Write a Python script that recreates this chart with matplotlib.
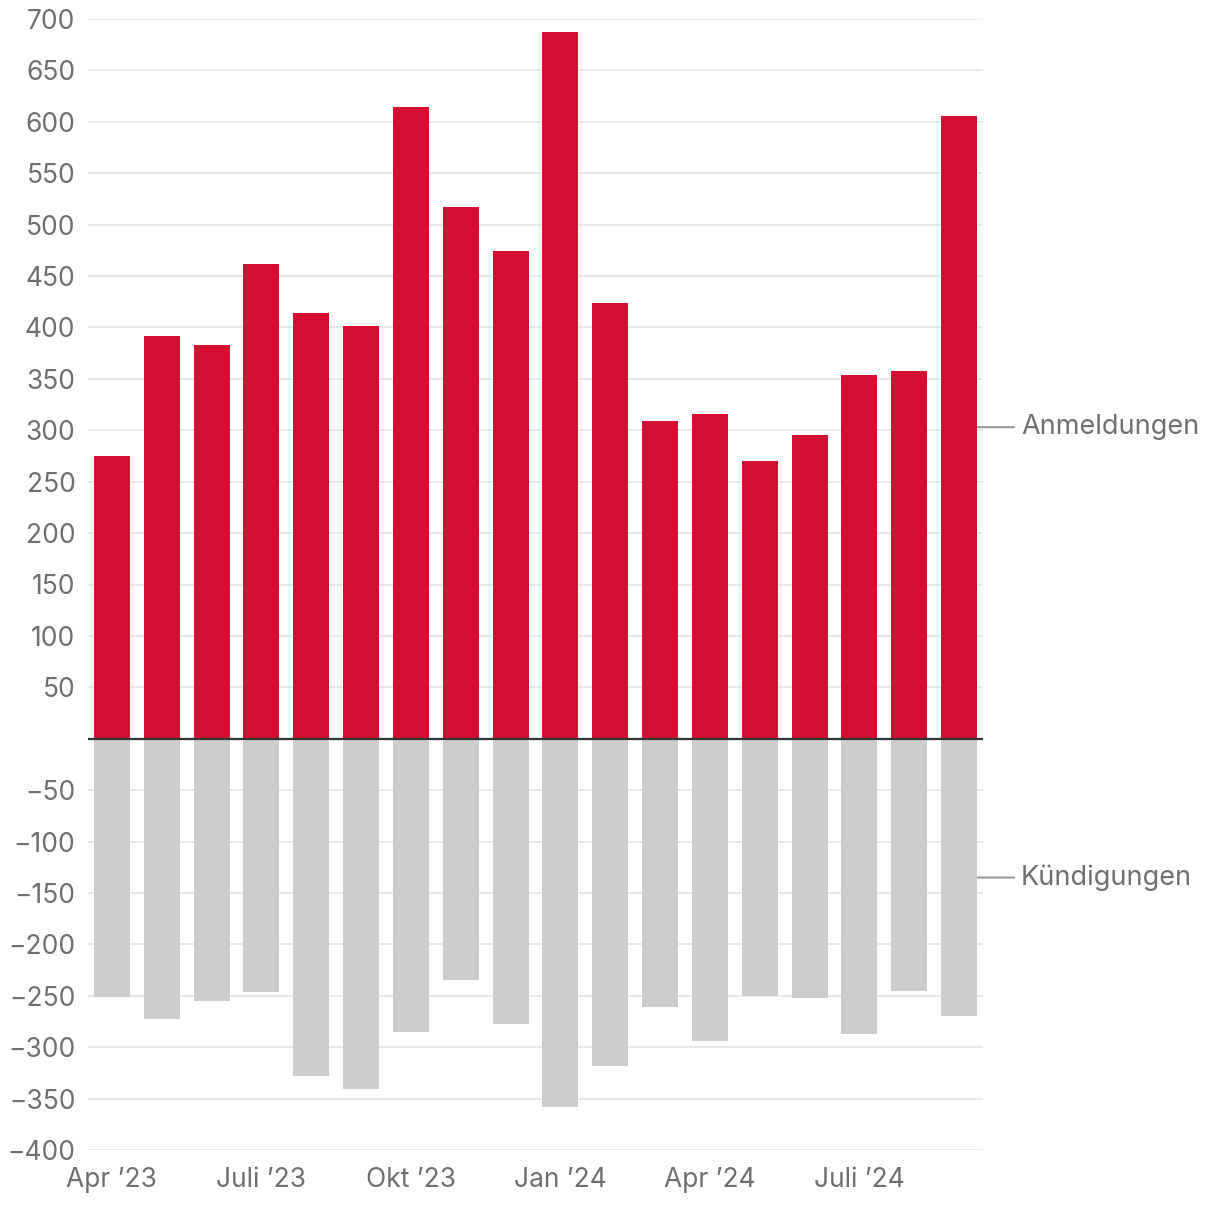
import numpy as np
import matplotlib.pyplot as plt

months = ["Apr '23", "Mai '23", "Juni '23", "Juli '23", "Aug '23", "Sep '23",
          "Okt '23", "Nov '23", "Dez '23", "Jan '24", "Feb '24", "Mär '24",
          "Apr '24", "Mai '24", "Juni '24", "Juli '24", "Aug '24", "Sep '24"]
anmeldungen = [275, 392, 383, 462, 414, 401, 614, 517, 474, 687, 424, 309,
               316, 270, 295, 354, 358, 606]
kuendigungen = [-251, -273, -255, -246, -328, -341, -285, -235, -277, -358, -318, -261,
                -294, -250, -252, -287, -245, -270]
tick_idx = [0, 3, 6, 9, 12, 15]
tick_labels = ["Apr \u201923", "Juli \u201923", "Okt \u201923", "Jan \u201924", "Apr \u201924", "Juli \u201924"]
yticks = [700, 650, 600, 550, 500, 450, 400, 350, 300, 250, 200, 150, 100, 50,
          -50, -100, -150, -200, -250, -300, -350, -400]

plt.rcParams['font.family'] = ['Inter', 'DejaVu Sans']
txt = '#6e6e73'
red = '#d50f31'
grey = '#cccccc'

fig = plt.figure(figsize=(12.2, 12.14), dpi=100)
ax = fig.add_axes([88/1220, 1 - 1150/1214, (983-88)/1220, (1150-19)/1214])

x = np.arange(len(months))
ax.bar(x, anmeldungen, width=0.72, color=red, zorder=2)
ax.bar(x, kuendigungen, width=0.72, color=grey, zorder=2)
ax.axhline(0, color='#333333', lw=1.6, zorder=3)

ax.set_xlim(-0.48, len(months) - 0.52)
ax.set_ylim(-400, 700)
ax.set_yticks(yticks)
ax.set_yticklabels([f"{v}".replace('-', '\u2212') for v in yticks])
ax.yaxis.grid(True, color='#e6e6e6', lw=1.3, zorder=0)
ax.set_xticks(tick_idx)
ax.set_xticklabels(tick_labels)
ax.tick_params(axis='both', length=0, labelsize=19, labelcolor=txt)
ax.tick_params(axis='y', pad=9)
ax.tick_params(axis='x', pad=12)
for s in ax.spines.values():
    s.set_visible(False)

# series labels next to the last bar
last = len(months) - 1
for val, name in [(anmeldungen[-1], 'Anmeldungen'), (kuendigungen[-1], 'K\u00fcndigungen')]:
    ax.annotate(name, xy=(last + 0.38, val / 2), xytext=(31, 0), textcoords='offset points',
                va='center', ha='left', fontsize=19.5, color=txt, annotation_clip=False,
                arrowprops=dict(arrowstyle='-', color='#999999', lw=1.5, shrinkA=3, shrinkB=0))

fig.savefig('out.png', dpi=100)
